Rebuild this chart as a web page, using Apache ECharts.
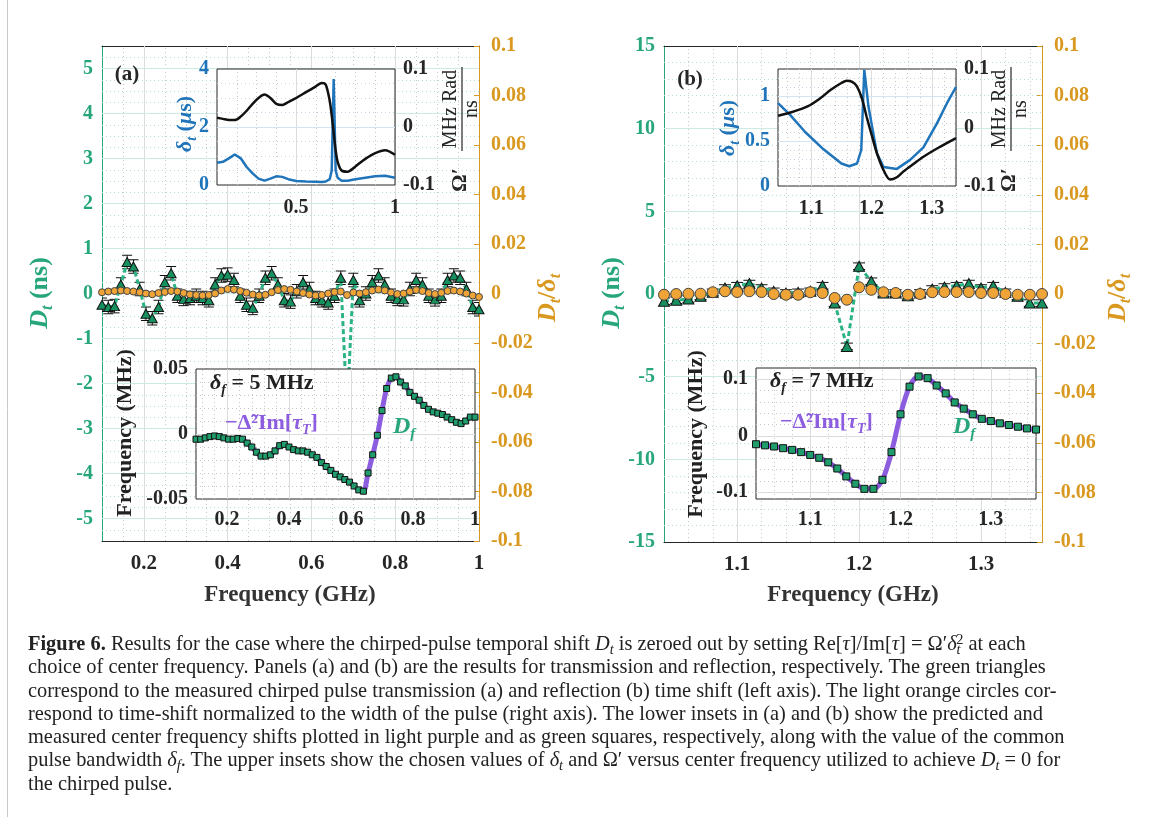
<!DOCTYPE html>
<html>
<head>
<meta charset="utf-8">
<script src="https://cdn.jsdelivr.net/npm/echarts@6/dist/echarts.min.js"></script>
<style>
html, body { margin: 0; padding: 0; background: #fff; }
#wrap { position: relative; width: 1165px; height: 817px; overflow: hidden; }
#chart { position: absolute; left: 0; top: 0; width: 1165px; height: 817px; }
#cap { position: absolute; left: 28px; top: 632px; font-family: 'Liberation Serif', serif; font-size: 20.4px;
       line-height: 23.3px; color: #222; white-space: nowrap; }
#cap sub { font-size: 0.7em; vertical-align: -0.25em; line-height: 0; }
#cap sup { font-size: 0.7em; vertical-align: 0.45em; line-height: 0; margin-left: -0.3em; }
</style>
</head>
<body>
<div id="wrap">
  <div id="chart"></div>
  <div id="cap">
    <div><b>Figure 6.</b> Results for the case where the chirped-pulse temporal shift <i>D<sub>t</sub></i> is zeroed out by setting Re[<i>τ</i>]/Im[<i>τ</i>] = Ω′<i>δ<sub>t</sub></i><sup>2</sup> at each</div>
    <div>choice of center frequency. Panels (a) and (b) are the results for transmission and reflection, respectively. The green triangles</div>
    <div>correspond to the measured chirped pulse transmission (a) and reflection (b) time shift (left axis). The light orange circles cor-</div>
    <div>respond to time-shift normalized to the width of the pulse (right axis). The lower insets in (a) and (b) show the predicted and</div>
    <div>measured center frequency shifts plotted in light purple and as green squares, respectively, along with the value of the common</div>
    <div>pulse bandwidth <i>δ<sub>f</sub></i>. The upper insets show the chosen values of <i>δ<sub>t</sub></i> and Ω′ versus center frequency utilized to achieve <i>D<sub>t</sub></i> = 0 for</div>
    <div>the chirped pulse.</div>
  </div>
</div>
<script>
var F = 'Liberation Serif';
var INK = '#262626';
var GREEN = '#26a67a';
var TRI = '#17915f';
var ORANGE = '#d9981f';
var DOT = '#eea436';
var BLUE = '#1f74ba';
var PURPLE = '#8d5de0';

// ---------- panel (a): transmission, measured every 0.015 GHz from 0.1 GHz ----------
var dtA = [-0.25, -0.3, -0.28, 0.2, 0.7, 0.6, 0.1, -0.45, -0.55, -0.3,
           0.25, 0.45, -0.05, -0.12, -0.1, -0.05, -0.1, -0.15, 0.2, 0.4,
           0.42, 0.3, -0.05, -0.25, -0.32, -0.05, 0.35, 0.45, 0.2, -0.15,
           -0.18, 0.05, 0.25, 0.1, -0.1, -0.15, -0.2, -0.05, 0.35, -2.6,
           0.3, -0.15, 0.0, 0.25, 0.4, 0.2, -0.05, -0.12, -0.13, 0.1,
           0.3, 0.2, -0.05, -0.13, -0.05, 0.3, 0.4, 0.35, 0.1, -0.3, -0.35];
var ratioA = [0.0005, 0.0008, 0.001, 0.0012, 0.001, 0.0008, 0.0005, 0.0, -0.0003, 0.0002,
              0.0006, 0.001, 0.0008, 0.0002, -0.0004, -0.0006, -0.0008, -0.0006, 0.0, 0.0012,
              0.0018, 0.0016, 0.001, 0.0003, -0.0004, -0.0008, -0.0005, 0.0005, 0.0014, 0.0018,
              0.0015, 0.0008, 0.0002, -0.0004, -0.0008, -0.0006, 0.0, 0.0006, 0.0008, -0.0006,
              0.0004, 0.0, 0.0005, 0.0012, 0.0016, 0.0012, 0.0004, -0.0002, 0.0, 0.0008,
              0.0014, 0.001, 0.0002, -0.0002, 0.0003, 0.001, 0.0012, 0.0008, 0.0, -0.0008, -0.0014];
var dfA = [-0.004, -0.004, -0.003, -0.002, -0.0015, -0.002, -0.003, -0.004, -0.004, -0.0035,
           -0.004, -0.007, -0.010, -0.014, -0.017, -0.017, -0.016, -0.013, -0.009, -0.008,
           -0.010, -0.012, -0.013, -0.013, -0.014, -0.016, -0.018, -0.022, -0.025, -0.028,
           -0.031, -0.033, -0.035, -0.037, -0.040, -0.043, -0.044, -0.030, -0.016, -0.001,
           0.018, 0.035, 0.043, 0.044, 0.040, 0.037, 0.032, 0.029, 0.026, 0.022,
           0.019, 0.017, 0.016, 0.015, 0.013, 0.011, 0.009, 0.008, 0.010, 0.013, 0.013];
var errA = 0.15;
var freqA = [];
for (var i = 0; i < dtA.length; i++) freqA.push(+(0.1 + 0.015 * i).toFixed(3));

// upper inset (a): delta_t (us) and Omega'
var insAFreq = [0.10, 0.13, 0.16, 0.19, 0.22, 0.25, 0.28, 0.31, 0.34, 0.37,
                0.40, 0.43, 0.46, 0.50, 0.55, 0.60, 0.63, 0.65, 0.67, 0.68,
                0.69, 0.70, 0.71, 0.73, 0.76, 0.80, 0.85, 0.90, 0.95, 1.00];
var insADelta = [0.77, 0.8, 0.92, 1.05, 0.92, 0.62, 0.4, 0.22, 0.15, 0.22,
                 0.3, 0.28, 0.2, 0.14, 0.12, 0.11, 0.1, 0.12, 0.2, 0.5,
                 3.65, 0.5, 0.25, 0.15, 0.15, 0.2, 0.25, 0.3, 0.32, 0.25];
var insAOmega = [0.016, 0.014, 0.012, 0.012, 0.018, 0.028, 0.04, 0.05, 0.056, 0.05,
                 0.04, 0.038, 0.043, 0.05, 0.06, 0.07, 0.076, 0.073, 0.045, 0.02,
                 -0.01, -0.04, -0.06, -0.075, -0.077, -0.068, -0.055, -0.045, -0.04, -0.048];

// ---------- panel (b): reflection ----------
var freqB = [1.04, 1.05, 1.06, 1.07, 1.08, 1.09, 1.10, 1.11, 1.12, 1.13, 1.14, 1.15, 1.16, 1.17, 1.18, 1.19,
             1.20, 1.21, 1.22, 1.23, 1.24, 1.25, 1.26, 1.27, 1.28, 1.29, 1.30, 1.31, 1.32, 1.33, 1.34, 1.35];
var dtB = [-0.44, -0.38, -0.3, -0.14, 0.1, 0.36, 0.5, 0.63, 0.36, 0.16, 0.06, 0.1, 0.16, 0.5, -0.55, -3.17,
           1.68, 0.77, 0.06, 0.06, -0.1, 0.06, 0.3, 0.42, 0.5, 0.63, 0.36, 0.5, 0.1, -0.14, -0.55, -0.55];
var ratioB = [-0.0003, 0, 0.0001, 0.0001, 0.0007, 0.0011, 0.0008, 0.0011, 0.0008, 0, -0.0003, -0.0003, 0.0007, 0.0004, -0.0016, -0.0023,
              0.0027, 0.0017, 0.0007, 0.0004, -0.0003, 0, 0.0007, 0.0008, 0.0008, 0.0008, 0.0004, 0.0004, 0, -0.0003, -0.0003, 0];
var dfB = [-0.015, -0.017, -0.019, -0.022, -0.025, -0.029, -0.034, -0.039, -0.047, -0.058, -0.072, -0.085, -0.094, -0.094, -0.078, -0.029,
           0.038, 0.087, 0.105, 0.102, 0.089, 0.075, 0.059, 0.048, 0.038, 0.030, 0.026, 0.022, 0.019, 0.016, 0.013, 0.011];
var errB = 0.2;

// upper inset (b)
var insBDeltaF = [1.045, 1.065, 1.09, 1.12, 1.15, 1.163, 1.176, 1.183, 1.188, 1.195, 1.209, 1.22, 1.242, 1.264, 1.286, 1.308, 1.325, 1.34];
var insBDelta = [0.92, 0.79, 0.6, 0.41, 0.25, 0.22, 0.25, 0.4, 1.29, 0.88, 0.36, 0.21, 0.19, 0.29, 0.43, 0.69, 0.92, 1.1];
var insBOmegaF = [1.045, 1.07, 1.094, 1.115, 1.132, 1.15, 1.159, 1.168, 1.176, 1.184, 1.192, 1.2, 1.209, 1.22, 1.231,
                  1.242, 1.253, 1.27, 1.286, 1.31, 1.34];
var insBOmega = [0.02, 0.027, 0.036, 0.05, 0.064, 0.076, 0.08, 0.078, 0.07, 0.05, 0.018, -0.012, -0.044, -0.073, -0.089,
                 -0.085, -0.075, -0.062, -0.05, -0.035, -0.018];

// tick labels
var ticksAx = ['0.2', '0.4', '0.6', '0.8', '1'];
var ticksAy = ['-5', '-4', '-3', '-2', '-1', '0', '1', '2', '3', '4', '5'];
var ticksBx = ['1.1', '1.2', '1.3'];
var ticksBy = ['-15', '-10', '-5', '0', '5', '10', '15'];
var ticksR = ['-0.1', '-0.08', '-0.06', '-0.04', '-0.02', '0', '0.02', '0.04', '0.06', '0.08', '0.1'];
var ticksInAx = ['0.5', '1'];
var ticksInAl = ['0', '2', '4'];
var ticksInBl = ['0', '0.5', '1'];
var ticksOmega = ['-0.1', '0', '0.1'];
var ticksLowAy = ['-0.05', '0', '0.05'];
var ticksLowBy = ['-0.1', '0', '0.1'];

function pairs(xs, ys) { return xs.map(function (x, k) { return [x, ys[k]]; }); }

function only(list) {
  return function (v) {
    for (var k = 0; k < list.length; k++) {
      if (Math.abs(v - parseFloat(list[k])) < 1e-6) return list[k];
    }
    return '';
  };
}

function steps(a, b, d, skip) {
  var out = [];
  for (var v = a; v <= b + 1e-9; v += d) {
    var r = Math.round(v * 10000) / 10000;
    var hit = (skip || []).some(function (s) { return Math.abs(s - r) < 1e-6; });
    if (!hit) out.push(r);
  }
  return out;
}

function axis(o) {
  var a = {
    type: 'value', gridIndex: o.g, position: o.pos, min: o.min, max: o.max, interval: o.step,
    z: o.z || 0,
    axisLine: { show: !!o.line, onZero: false, lineStyle: { color: o.line, width: 1 } },
    axisTick: { show: false },
    splitLine: { show: false },
    axisLabel: {
      show: !!o.labels, formatter: only(o.labels || []), color: o.color, fontFamily: F,
      fontWeight: 'bold', fontSize: o.size || 20, margin: o.margin || 10,
      showMinLabel: true, showMaxLabel: true
    }
  };
  if (o.tick) a.axisTick = { show: true, inside: true, length: 5, lineStyle: { color: o.tick } };
  return a;
}

function gridLines(xi, yi, xMaj, xMin, yMaj, yMin, cx, cy, z) {
  var d = [];
  xMin.forEach(function (v) { d.push({ xAxis: v, lineStyle: { color: cx[1], width: 1, type: [1, 3] } }); });
  yMin.forEach(function (v) { d.push({ yAxis: v, lineStyle: { color: cy[1], width: 1, type: [1, 3] } }); });
  xMaj.forEach(function (v) { d.push({ xAxis: v, lineStyle: { color: cx[0], width: 1, type: 'solid' } }); });
  yMaj.forEach(function (v) { d.push({ yAxis: v, lineStyle: { color: cy[0], width: 1, type: 'solid' } }); });
  return {
    type: 'line', xAxisIndex: xi, yAxisIndex: yi, data: [], silent: true, symbol: 'none',
    markLine: { silent: true, symbol: ['none', 'none'], label: { show: false }, z: z, animation: false, data: d }
  };
}

function errBars(xi, yi, xs, ys, e, cap) {
  return {
    type: 'custom', xAxisIndex: xi, yAxisIndex: yi, z: 2, clip: true, silent: true,
    encode: { x: 0, y: 1 },
    data: xs.map(function (x, k) { return [x, ys[k], e]; }),
    renderItem: function (params, api) {
      var x = api.value(0), y = api.value(1), dd = api.value(2);
      var top = api.coord([x, y + dd]), bot = api.coord([x, y - dd]);
      var st = { stroke: '#111', lineWidth: 1 };
      return {
        type: 'group', children: [
          { type: 'line', shape: { x1: top[0], y1: top[1], x2: bot[0], y2: bot[1] }, style: st },
          { type: 'line', shape: { x1: top[0] - cap, y1: top[1], x2: top[0] + cap, y2: top[1] }, style: st },
          { type: 'line', shape: { x1: bot[0] - cap, y1: bot[1], x2: bot[0] + cap, y2: bot[1] }, style: st }
        ]
      };
    }
  };
}

function rich(color, size) {
  var s = Math.round(size * 0.62);
  return {
    n: { fontFamily: F, fontSize: size, fontWeight: 'bold', fill: color, color: color, lineHeight: size + 6 },
    i: { fontFamily: F, fontSize: size, fontWeight: 'bold', fontStyle: 'italic', fill: color, color: color, lineHeight: size + 6 },
    s: { fontFamily: F, fontSize: s, fontWeight: 'bold', fontStyle: 'italic', fill: color, color: color, lineHeight: s, verticalAlign: 'bottom' }
  };
}

function label(x, y, text, color, size, rot, align) {
  return {
    type: 'text', x: x, y: y, rotation: rot || 0, z: 10, silent: true,
    style: { text: text, rich: rich(color, size), align: align || 'center', verticalAlign: 'middle' }
  };
}

function omegaLabel(x, y) {
  var f = '"Liberation Serif"';
  return {
    type: 'group', x: x, y: y, rotation: Math.PI / 2, z: 10, silent: true,
    children: [
      { type: 'text', x: 5, y: -2, z: 10, style: { text: 'Ω′', font: 'bold 22px ' + f, fill: INK, align: 'center', verticalAlign: 'middle' } },
      { type: 'text', x: 76, y: -11, z: 10, style: { text: 'MHz Rad', font: '20px ' + f, fill: INK, align: 'center', verticalAlign: 'middle' } },
      { type: 'line', z: 10, shape: { x1: 34, y1: 0, x2: 118, y2: 0 }, style: { stroke: INK, lineWidth: 1.2 } },
      { type: 'text', x: 76, y: 10, z: 10, style: { text: 'ns', font: '20px ' + f, fill: INK, align: 'center', verticalAlign: 'middle' } }
    ]
  };
}

var inset = { show: true, backgroundColor: '#fff', borderColor: INK, borderWidth: 1, z: 3, outerBoundsMode: 'none' };
var grids = [
  { left: 102, top: 46, width: 377, height: 495, outerBoundsMode: 'none' },
  { left: 664, top: 46, width: 378, height: 496, outerBoundsMode: 'none' },
  Object.assign({ left: 217, top: 69, width: 178, height: 116 }, inset),
  Object.assign({ left: 196, top: 369, width: 279, height: 130 }, inset),
  Object.assign({ left: 778, top: 69, width: 178, height: 117 }, inset),
  Object.assign({ left: 756, top: 368, width: 280, height: 131 }, inset)
];

var xAxes = [
  axis({ g: 0, pos: 'bottom', min: 0.1, max: 1, step: 0.1, labels: ticksAx, color: INK, line: INK, size: 21, margin: 12 }),
  axis({ g: 0, pos: 'top', min: 0.1, max: 1, step: 0.1, line: INK }),
  axis({ g: 1, pos: 'bottom', min: 1.04, max: 1.35, step: 0.01, labels: ticksBx, color: INK, line: INK, size: 21, margin: 12 }),
  axis({ g: 1, pos: 'top', min: 1.04, max: 1.35, step: 0.01, line: INK }),
  axis({ g: 2, pos: 'bottom', min: 0.1, max: 1, step: 0.1, labels: ticksInAx, color: INK, z: 5, margin: 13 }),
  axis({ g: 3, pos: 'bottom', min: 0.1, max: 1, step: 0.1, labels: ticksAx, color: INK, z: 5, margin: 11 }),
  axis({ g: 4, pos: 'bottom', min: 1.045, max: 1.34, step: 0.005, labels: ticksBx, color: INK, z: 5, margin: 13 }),
  axis({ g: 5, pos: 'bottom', min: 1.04, max: 1.35, step: 0.01, labels: ticksBx, color: INK, z: 5, margin: 11 })
];

var yAxes = [
  axis({ g: 0, pos: 'left', min: -5.5, max: 5.5, step: 0.5, labels: ticksAy, color: GREEN, line: GREEN, margin: 9 }),
  axis({ g: 0, pos: 'right', min: -0.1, max: 0.1, step: 0.02, labels: ticksR, color: ORANGE, line: ORANGE, tick: ORANGE, margin: 12 }),
  axis({ g: 1, pos: 'left', min: -15, max: 15, step: 5, labels: ticksBy, color: GREEN, line: GREEN, margin: 9 }),
  axis({ g: 1, pos: 'right', min: -0.1, max: 0.1, step: 0.02, labels: ticksR, color: ORANGE, line: ORANGE, tick: ORANGE, margin: 12 }),
  axis({ g: 2, pos: 'left', min: 0, max: 4, step: 2, labels: ticksInAl, color: BLUE, z: 5, margin: 8 }),
  axis({ g: 2, pos: 'right', min: -0.1, max: 0.1, step: 0.1, labels: ticksOmega, color: INK, z: 5, margin: 8 }),
  axis({ g: 3, pos: 'left', min: -0.05, max: 0.05, step: 0.05, labels: ticksLowAy, color: INK, z: 5, margin: 8 }),
  axis({ g: 4, pos: 'left', min: 0, max: 1.3, step: 0.1, labels: ticksInBl, color: BLUE, z: 5, margin: 8 }),
  axis({ g: 4, pos: 'right', min: -0.1, max: 0.1, step: 0.1, labels: ticksOmega, color: INK, z: 5, margin: 8 }),
  axis({ g: 5, pos: 'left', min: -0.112, max: 0.12, step: 0.004, labels: ticksLowBy, color: INK, z: 5, margin: 8 })
];

var VX = ['#dcdcdc', '#c6c6c6'];
var HG = ['#cdebe2', '#b9ddd1'];
var HB = ['#d4e4f1', '#c2d6e8'];

var series = [
  gridLines(0, 0, [0.2, 0.4, 0.6, 0.8], steps(0.15, 0.95, 0.05, [0.2, 0.4, 0.6, 0.8]),
            steps(-5, 5, 1), steps(-5.25, 5.25, 0.25, steps(-5, 5, 1)), VX, HG, 1),
  gridLines(2, 2, [1.1, 1.2, 1.3], steps(1.06, 1.34, 0.02, [1.1, 1.2, 1.3]),
            [-10, -5, 0, 5, 10], steps(-14, 14, 1, [-10, -5, 0, 5, 10]), VX, HG, 1),
  gridLines(4, 4, [0.5], [0.2, 0.3, 0.4, 0.6, 0.7, 0.8, 0.9], [2], [0.5, 1, 1.5, 2.5, 3, 3.5], VX, HB, 4),
  gridLines(5, 6, [0.2, 0.4, 0.6, 0.8], steps(0.12, 0.96, 0.04, [0.2, 0.4, 0.6, 0.8]),
            [0], steps(-0.04, 0.04, 0.01, [0]), VX, VX, 4),
  gridLines(6, 7, [1.1, 1.2, 1.3], steps(1.06, 1.32, 0.02, [1.1, 1.2, 1.3]),
            [0.5, 1], steps(0.1, 1.2, 0.1, [0.5, 1]), VX, HB, 4),
  gridLines(7, 9, [1.1, 1.2, 1.3], steps(1.06, 1.34, 0.02, [1.1, 1.2, 1.3]),
            [-0.1, 0, 0.1], steps(-0.08, 0.08, 0.02, [0]), VX, VX, 4),

  // main (a)
  errBars(0, 0, freqA, dtA, errA, 5),
  { type: 'line', xAxisIndex: 0, yAxisIndex: 0, data: pairs(freqA, dtA), symbol: 'triangle', symbolSize: [10, 9],
    lineStyle: { color: '#2cb383', width: 3, type: [5, 3] }, itemStyle: { color: TRI, borderColor: '#111', borderWidth: 1 }, z: 2 },
  { type: 'scatter', xAxisIndex: 0, yAxisIndex: 1, data: pairs(freqA, ratioA), symbol: 'circle', symbolSize: 7,
    itemStyle: { color: DOT, borderColor: '#444', borderWidth: 1, opacity: 1 }, z: 2 },

  // main (b)
  errBars(2, 2, freqB, dtB, errB, 6),
  { type: 'line', xAxisIndex: 2, yAxisIndex: 2, data: pairs(freqB, dtB), symbol: 'triangle', symbolSize: [11, 10],
    lineStyle: { color: '#2cb383', width: 3, type: [5, 3] }, itemStyle: { color: TRI, borderColor: '#111', borderWidth: 1 }, z: 2 },
  { type: 'scatter', xAxisIndex: 2, yAxisIndex: 3, data: pairs(freqB, ratioB), symbol: 'circle', symbolSize: 11,
    itemStyle: { color: DOT, borderColor: '#444', borderWidth: 1, opacity: 1 }, z: 2 },

  // upper inset (a)
  { type: 'line', xAxisIndex: 4, yAxisIndex: 4, data: pairs(insAFreq, insADelta), symbol: 'none',
    lineStyle: { color: BLUE, width: 2.5 }, z: 5 },
  { type: 'line', xAxisIndex: 4, yAxisIndex: 5, data: pairs(insAFreq, insAOmega), symbol: 'none', smooth: 0.3,
    lineStyle: { color: '#111', width: 2.5 }, z: 5 },

  // lower inset (a)
  { type: 'line', xAxisIndex: 5, yAxisIndex: 6, data: pairs(freqA, dfA), symbol: 'none', smooth: 0.3,
    lineStyle: { color: PURPLE, width: 5 }, z: 5 },
  { type: 'scatter', xAxisIndex: 5, yAxisIndex: 6, data: pairs(freqA, dfA), symbol: 'rect', symbolSize: 6,
    itemStyle: { color: '#1f9d6c', borderColor: '#111', borderWidth: 1, opacity: 1 }, z: 5 },

  // upper inset (b)
  { type: 'line', xAxisIndex: 6, yAxisIndex: 7, data: pairs(insBDeltaF, insBDelta), symbol: 'none',
    lineStyle: { color: BLUE, width: 2.5 }, z: 5 },
  { type: 'line', xAxisIndex: 6, yAxisIndex: 8, data: pairs(insBOmegaF, insBOmega), symbol: 'none', smooth: 0.3,
    lineStyle: { color: '#111', width: 2.5 }, z: 5 },

  // lower inset (b)
  { type: 'line', xAxisIndex: 7, yAxisIndex: 9, data: pairs(freqB, dfB), symbol: 'none', smooth: 0.3,
    lineStyle: { color: PURPLE, width: 5 }, z: 5 },
  { type: 'scatter', xAxisIndex: 7, yAxisIndex: 9, data: pairs(freqB, dfB), symbol: 'rect', symbolSize: 7,
    itemStyle: { color: '#1f9d6c', borderColor: '#111', borderWidth: 1, opacity: 1 }, z: 5 }
];

var R90 = Math.PI / 2;
var graphics = [
  { type: 'line', z: 10, silent: true, shape: { x1: 7.5, y1: 0, x2: 7.5, y2: 817 }, style: { stroke: '#c8c8c8', lineWidth: 1 } },
  label(127, 75, '{n|(a)}', INK, 21),
  label(690, 80, '{n|(b)}', INK, 21),
  label(40, 293, '{i|D}{s|t}{n| (ns)}', GREEN, 26, R90),
  label(612, 293, '{i|D}{s|t}{n| (ns)}', GREEN, 26, R90),
  label(548, 298, '{i|D}{s|t}{n|/}{i|δ}{s|t}', ORANGE, 26, R90),
  label(1118, 298, '{i|D}{s|t}{n|/}{i|δ}{s|t}', ORANGE, 26, R90),
  label(290, 595, '{n|Frequency (GHz)}', '#333', 23),
  label(853, 595, '{n|Frequency (GHz)}', '#333', 23),
  label(185, 124, '{i|δ}{s|t}{n| (}{i|μ}{n|s)}', BLUE, 22, R90),
  label(728, 128, '{i|δ}{s|t}{n| (}{i|μ}{n|s)}', BLUE, 22, R90),
  omegaLabel(462, 185),
  omegaLabel(1011, 185),
  label(125, 433, '{n|Frequency (MHz)}', '#222', 22, R90),
  label(696, 434, '{n|Frequency (MHz)}', '#222', 22, R90),
  label(210, 383, '{i|δ}{s|f}{n| = 5 MHz}', '#222', 22, 0, 'left'),
  label(770, 381, '{i|δ}{s|f}{n| = 7 MHz}', '#222', 22, 0, 'left'),
  label(225, 423, '{n|−Δ̃²Im[}{i|τ}{s|T}{n|]}', PURPLE, 22, 0, 'left'),
  label(780, 422, '{n|−Δ̃²Im[}{i|τ}{s|T}{n|]}', PURPLE, 22, 0, 'left'),
  label(393, 427, '{i|D}{s|f}', GREEN, 24, 0, 'left'),
  label(953, 427, '{i|D}{s|f}', GREEN, 24, 0, 'left')
];

var chart = echarts.init(document.getElementById('chart'));
chart.setOption({
  animation: false,
  backgroundColor: '#fff',
  grid: grids,
  xAxis: xAxes,
  yAxis: yAxes,
  series: series,
  graphic: graphics
});
</script>
</body>
</html>
